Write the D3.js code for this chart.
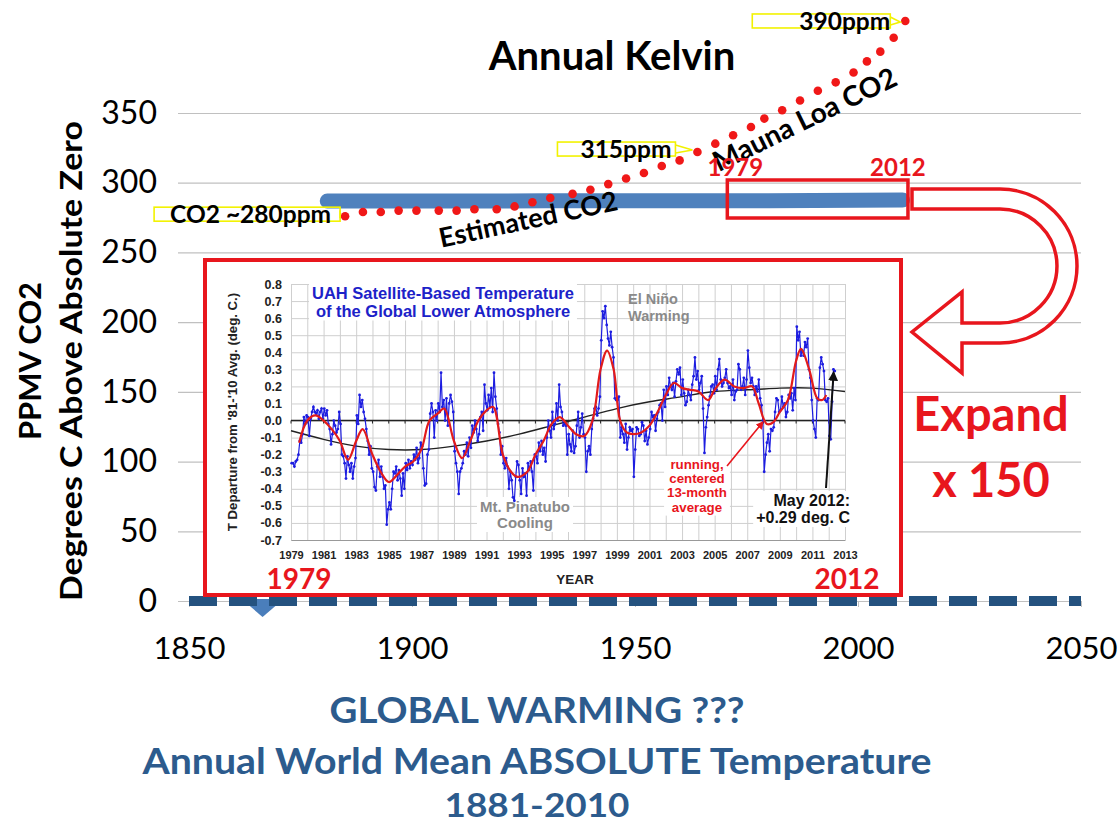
<!DOCTYPE html>
<html>
<head>
<meta charset="utf-8">
<script src="https://cdn.jsdelivr.net/npm/d3@7"></script>
<style>
body { margin: 0; background: #fff; }
svg { display: block; }
</style>
</head>
<body>
<svg id="chart" width="1118" height="827"></svg>
<script>
// ---- main chart data ----------------------------------------------
var yTicks = [0, 50, 100, 150, 200, 250, 300, 350];
var xTicks = [1850, 1900, 1950, 2000, 2050];

// annual world mean absolute temperature (Kelvin), 1881-2010
var kelvinYears = [1881, 1890, 1900, 1910, 1920, 1930, 1940, 1950, 1960, 1970, 1980, 1990, 2000, 2010];
var kelvinValues = [286.9, 286.9, 286.9, 286.8, 286.9, 287.0, 287.1, 287.0, 287.0, 287.0, 287.1, 287.3, 287.5, 287.6];

// temperature line at zero (dashed) and its marker
var zeroYears = [1850, 2050];
var zeroValues = [0, 0];
var markerYear = 1866.5;

// CO2 dots (estimated + Mauna Loa), as drawn on the chart's scale
var co2Years = [1885, 1889, 1893, 1897, 1901, 1906, 1910, 1914, 1919, 1923, 1927, 1931, 1936, 1940, 1944, 1948, 1952, 1956, 1960, 1964,
    1968, 1972, 1976, 1979, 1983, 1987, 1991, 1995, 1999, 2002, 2005, 2008, 2010.6];
var co2Values = [276, 279, 279, 280, 280, 280, 280, 281, 281, 283, 286, 289, 292, 295, 299, 303, 307, 312, 316, 322,
    328, 334, 340, 346, 352, 359, 366, 372, 379, 387, 394, 404, 416];

// callouts: label and which CO2 dot they point at
var calloutLabels = ["CO2 ~280ppm", "315ppm", "390ppm"];
var calloutDot = [0, 19, 32];

// ---- inset (UAH) data -------------------------------------------
var uahStart = 1979;
var uahMonthly = [
    -0.25, -0.25, -0.27, -0.24, -0.23, -0.20, -0.12, -0.13, -0.08, 0.02, -0.02, 0.03,   // 1979
    0.02, -0.09, 0.01, 0.05, 0.08, 0.05, 0.04, 0.06, 0.01, 0.05, 0.07, 0.01,            // 1980
    0.07, 0.03, 0.06, -0.02, -0.05, -0.14, -0.08, 0.00, -0.03, -0.07, -0.05, 0.05,      // 1981
    -0.02, -0.20, -0.21, -0.25, -0.34, -0.21, -0.26, -0.30, -0.25, -0.34, -0.27, -0.22, // 1982
    0.03, -0.02, 0.15, 0.08, 0.12, 0.05, 0.01, -0.05, -0.12, -0.20, -0.15, -0.28,       // 1983
    -0.30, -0.39, -0.41, -0.27, -0.23, -0.33, -0.27, -0.33, -0.40, -0.38, -0.61, -0.52, // 1984
    -0.48, -0.52, -0.40, -0.30, -0.31, -0.27, -0.35, -0.29, -0.34, -0.44, -0.31, -0.40, // 1985
    -0.25, -0.29, -0.23, -0.28, -0.24, -0.26, -0.20, -0.23, -0.16, -0.25, -0.22, -0.13, // 1986
    -0.15, -0.28, -0.38, -0.37, -0.20, -0.17, 0.04, 0.10, 0.05, -0.10, 0.06, 0.00,      // 1987
    0.10, 0.05, 0.28, 0.08, 0.12, 0.00, 0.13, -0.03, 0.10, 0.15, 0.11, 0.05,            // 1988
    -0.18, -0.25, -0.30, -0.43, -0.30, -0.28, -0.25, -0.18, -0.20, -0.13, -0.21, -0.10, // 1989
    -0.16, -0.03, -0.07, 0.00, -0.05, -0.12, -0.08, 0.02, 0.05, -0.06, 0.21, 0.10,      // 1990
    0.06, 0.15, 0.08, 0.19, 0.05, 0.28, 0.14, 0.07, -0.02, -0.07, -0.20, -0.15,         // 1991
    -0.25, -0.28, -0.22, -0.27, -0.40, -0.30, -0.35, -0.45, -0.47, -0.33, -0.24, -0.26, // 1992
    -0.35, -0.43, -0.28, -0.33, -0.31, -0.44, -0.25, -0.29, -0.24, -0.30, -0.41, -0.20, // 1993
    -0.21, -0.25, -0.13, -0.18, -0.12, -0.20, -0.16, -0.24, -0.10, 0.00, -0.06, -0.10,  // 1994
    0.05, -0.05, -0.02, 0.10, 0.00, 0.21, 0.08, 0.05, -0.03, -0.02, -0.03, -0.20,       // 1995
    -0.08, -0.14, -0.18, -0.06, -0.19, -0.15, -0.03, 0.05, -0.10, -0.04, 0.04, -0.08,   // 1996
    -0.10, -0.30, -0.18, -0.15, -0.20, -0.05, 0.01, 0.07, 0.08, 0.03, 0.07, 0.14,       // 1997
    0.47, 0.64, 0.60, 0.67, 0.56, 0.48, 0.44, 0.52, 0.43, 0.37, 0.13, 0.12,             // 1998
    0.12, 0.14, -0.10, -0.04, -0.08, -0.13, -0.02, -0.17, -0.10, -0.04, -0.06, -0.05,   // 1999
    -0.33, -0.17, -0.04, -0.05, -0.09, -0.08, -0.01, -0.03, -0.12, -0.06, -0.14, -0.10, // 2000
    -0.05, 0.05, 0.02, 0.03, -0.06, 0.01, 0.05, 0.09, 0.10, 0.00, 0.18, 0.08,           // 2001
    0.20, 0.15, 0.25, 0.20, 0.18, 0.22, 0.14, 0.23, 0.30, 0.27, 0.31, 0.15,             // 2002
    0.24, 0.16, 0.09, 0.11, 0.18, 0.15, 0.12, 0.21, 0.26, 0.37, 0.24, 0.29,             // 2003
    0.18, 0.22, 0.26, 0.07, -0.19, -0.04, 0.02, 0.09, 0.14, 0.20, 0.21, 0.16,           // 2004
    0.26, 0.18, 0.30, 0.36, 0.24, 0.20, 0.22, 0.25, 0.30, 0.22, 0.19, 0.20,             // 2005
    0.15, 0.24, 0.12, 0.17, 0.18, 0.33, 0.30, 0.18, 0.20, 0.25, 0.15, 0.24,             // 2006
    0.41, 0.31, 0.22, 0.25, 0.20, 0.15, 0.20, 0.17, 0.24, 0.13, 0.09, 0.00,             // 2007
    -0.30, -0.20, -0.13, -0.08, -0.18, -0.05, -0.06, -0.04, 0.05, 0.13, 0.12, 0.05,     // 2008
    0.06, 0.14, 0.08, 0.10, 0.02, 0.05, 0.15, 0.13, 0.16, 0.06, 0.19, 0.12,             // 2009
    0.55, 0.47, 0.52, 0.38, 0.41, 0.38, 0.46, 0.43, 0.48, 0.30, 0.25, 0.12,             // 2010
    0.00, -0.05, -0.10, 0.13, 0.12, 0.31, 0.37, 0.33, 0.29, 0.12, 0.11, 0.13,           // 2011
    -0.09, -0.11, 0.11, 0.30, 0.29                                                        // 2012
];

// red running 13-month average
var runTimes = [1979.5, 1980.0, 1980.5, 1981.0, 1981.5, 1982.0, 1982.5, 1983.0, 1983.4, 1984.0, 1984.5, 1985.0, 1985.5,
    1986.0, 1986.5, 1987.0, 1987.5, 1988.0, 1988.4, 1989.0, 1989.5, 1990.0, 1990.5, 1991.0, 1991.4, 1992.0, 1992.5,
    1992.9, 1993.5, 1994.0, 1994.5, 1995.0, 1995.5, 1996.0, 1996.5, 1997.0, 1997.5, 1998.0, 1998.4, 1998.8, 1999.2,
    1999.6, 2000.0, 2000.5, 2001.0, 2001.5, 2002.0, 2002.5, 2003.0, 2003.5, 2004.0, 2004.6, 2005.0, 2005.6, 2006.2,
    2006.8, 2007.3, 2007.7, 2008.2, 2008.6, 2009.0, 2009.5, 2010.0, 2010.3, 2010.8, 2011.3, 2011.6, 2011.85];
var runValues = [-0.13, 0.00, 0.03, 0.00, -0.05, -0.12, -0.23, -0.12, -0.05, -0.20, -0.30, -0.36, -0.32,
    -0.27, -0.24, -0.17, 0.00, 0.04, 0.07, -0.12, -0.22, -0.12, 0.00, 0.06, 0.08, -0.20, -0.30,
    -0.33, -0.30, -0.20, -0.12, -0.02, 0.02, -0.03, -0.08, -0.09, 0.00, 0.30, 0.41, 0.30, 0.00,
    -0.07, -0.08, -0.07, -0.03, 0.05, 0.15, 0.22, 0.19, 0.18, 0.17, 0.12, 0.18, 0.24, 0.20,
    0.19, 0.20, 0.10, -0.02, -0.01, 0.05, 0.12, 0.35, 0.42, 0.30, 0.13, 0.12, 0.15];

// black smooth fit
var fitYears = [1979, 1981, 1983, 1985, 1987, 1989, 1991, 1993, 1995, 1997, 1999, 2001, 2003, 2005, 2007, 2009, 2011, 2013];
var fitValues = [-0.06, -0.11, -0.15, -0.17, -0.17, -0.15, -0.12, -0.08, -0.03, 0.02, 0.07, 0.11, 0.14, 0.17, 0.18, 0.19, 0.19, 0.17];

var insetYTicks = [-0.7, -0.6, -0.5, -0.4, -0.3, -0.2, -0.1, 0.0, 0.1, 0.2, 0.3, 0.4, 0.5, 0.6, 0.7, 0.8];
var insetXTicks = d3.range(1979, 2014);

// ---- main chart -------------------------------------------------
var svg = d3.select("#chart");
var red = "#e8161d";
var mainFont = "Lato, 'Open Sans', sans-serif";
var insetFont = "'Liberation Sans', Arial, sans-serif";

var x = d3.scaleLinear().domain([1850, 2050]).range([189, 1081]);
var y = d3.scaleLinear().domain([0, 350]).range([601, 113]);

var defs = svg.append("defs");
[["arrowRed", red], ["arrowBlack", "#111"]].forEach(function(m) {
    defs.append("marker")
        .attr("id", m[0])
        .attr("viewBox", "0 0 10 10")
        .attr("refX", 8).attr("refY", 5)
        .attr("markerWidth", 5).attr("markerHeight", 5)
        .attr("orient", "auto")
        .append("path")
            .attr("d", "M0,0 L10,5 L0,10 z")
            .attr("fill", m[1]);
});

// Y axis with gridlines
svg.append("g")
    .attr("class", "y axis")
    .attr("transform", "translate(178,0)")
    .call(d3.axisLeft(y).tickValues(yTicks).tickSize(-(1081 - 178)).tickPadding(21))
    .call(function(g) { g.select(".domain").remove(); })
    .call(function(g) { g.selectAll(".tick line").attr("stroke", "#c0c0c0").attr("stroke-width", 1.2); })
    .call(function(g) { g.selectAll(".tick text").attr("font-family", mainFont).attr("font-size", 32).attr("fill", "#000"); });

// X axis
svg.append("g")
    .attr("class", "x axis")
    .attr("transform", "translate(0," + y(0) + ")")
    .call(d3.axisBottom(x).tickValues(xTicks).tickFormat(d3.format("d")).tickSize(6).tickSizeOuter(0).tickPadding(30))
    .call(function(g) { g.select(".domain").attr("stroke", "#c0c0c0"); })
    .call(function(g) { g.selectAll(".tick line").attr("stroke", "#c0c0c0"); })
    .call(function(g) { g.selectAll(".tick text").attr("font-family", mainFont).attr("font-size", 31).attr("fill", "#000"); });

// triangle marker hanging under the axis
var mx = x(markerYear), my = y(0);
svg.append("path")
    .attr("d", "M" + (mx - 21) + "," + (my - 2) + " L" + (mx + 21) + "," + (my - 2) + " L" + mx + "," + (my + 16) + " Z")
    .attr("fill", "#4a7ebb");

// dashed zero line
var line = d3.line().x(function(d) { return x(d[0]); }).y(function(d) { return y(d[1]); });
svg.append("path")
    .datum(zeroYears.map(function(v, i) { return [v, zeroValues[i]]; }))
    .attr("d", line)
    .attr("fill", "none")
    .attr("stroke", "#24527f")
    .attr("stroke-width", 10)
    .attr("stroke-dasharray", "28,12");

// thick blue kelvin line
svg.append("path")
    .datum(kelvinYears.map(function(v, i) { return [v, kelvinValues[i]]; }))
    .attr("d", line)
    .attr("fill", "none")
    .attr("stroke", "#4f81bd")
    .attr("stroke-width", 15)
    .attr("stroke-linecap", "round")
    .attr("stroke-linejoin", "round");

// CO2 dotted series
svg.selectAll("circle.co2")
    .data(co2Years)
    .enter()
    .append("circle")
        .attr("class", "co2")
        .attr("cx", function(d) { return x(d); })
        .attr("cy", function(d, i) { return y(co2Values[i]); })
        .attr("r", 4.3)
        .attr("fill", "#f01818");

// callouts (yellow outlined boxes with text)
var calloutGeom = [
    {boxGap: 5, boxW: 186, textGap: 14, dy: -2},
    {boxGap: 22, boxW: 118, textGap: 26, dy: -3},
    {boxGap: 15, boxW: 138, textGap: 15, dy: 0}
];
calloutLabels.forEach(function(lbl, i) {
    var k = calloutDot[i], g = calloutGeom[i];
    var px = x(co2Years[k]), py = y(co2Values[k]) + g.dy;
    var right = px - g.boxGap;
    var cg = svg.append("g");
    cg.append("rect")
        .attr("x", right - g.boxW).attr("y", py - 7)
        .attr("width", g.boxW).attr("height", 14)
        .attr("fill", "none").attr("stroke", "#f2f200").attr("stroke-width", 1.6);
    cg.append("path")
        .attr("d", "M" + right + "," + (py - 4) + " L" + (px - 5) + "," + (py + 1) + " L" + right + "," + (py + 4))
        .attr("fill", "none").attr("stroke", "#f2f200").attr("stroke-width", 1.6);
    cg.append("text")
        .attr("x", px - g.textGap).attr("y", py)
        .attr("dy", "0.35em")
        .attr("text-anchor", "end")
        .attr("font-family", mainFont).attr("font-weight", 700).attr("font-size", 24.5)
        .text(lbl);
});

// rotated series labels
svg.append("text")
    .attr("transform", "translate(" + x(1926.5) + "," + (y(267)) + ") rotate(-12)")
    .attr("text-anchor", "middle")
    .attr("font-family", mainFont).attr("font-weight", 700).attr("font-size", 27)
    .text("Estimated CO2");
svg.append("text")
    .attr("transform", "translate(" + x(1989) + "," + (y(339)) + ") rotate(-26)")
    .attr("text-anchor", "middle")
    .attr("font-family", mainFont).attr("font-weight", 700).attr("font-size", 28)
    .text("Mauna Loa CO2");

// chart title
svg.append("text")
    .attr("x", 612).attr("y", 70)
    .attr("text-anchor", "middle")
    .attr("font-family", mainFont).attr("font-weight", 700).attr("font-size", 40)
    .text("Annual Kelvin");

// axis titles
[["PPMV CO2", 29, 158], ["Degrees C Above Absolute Zero", 70, 480]].forEach(function(t) {
    svg.append("text")
        .attr("transform", "translate(" + t[1] + ",361) rotate(-90)")
        .attr("text-anchor", "middle")
        .attr("dominant-baseline", "central")
        .attr("font-family", mainFont).attr("font-weight", 700).attr("font-size", 31)
        .attr("textLength", t[2]).attr("lengthAdjust", "spacingAndGlyphs")
        .text(t[0]);
});

// red box over 1979-2012 on the kelvin line
var expandFrom = 1970.7, expandTo = 2011.2;
svg.append("rect")
    .attr("x", x(expandFrom)).attr("y", 180)
    .attr("width", x(expandTo) - x(expandFrom)).attr("height", 38)
    .attr("fill", "none").attr("stroke", red).attr("stroke-width", 3.5);
[["1979", x(expandFrom) + 8], ["2012", x(expandTo) - 10]].forEach(function(t) {
    svg.append("text")
        .attr("x", t[1]).attr("y", 176)
        .attr("text-anchor", "middle")
        .attr("font-family", mainFont).attr("font-weight", 700).attr("font-size", 24)
        .attr("fill", red)
        .text(t[0]);
});

// U-turn arrow
svg.append("path")
    .attr("d", "M912,189 L1000,189 A77,77 0 0 1 1000,343 L962,343 L962,373 L912,332 L962,292 L962,323 " +
               "L1000,323 A57,57 0 0 0 1000,209 L912,209 Z")
    .attr("fill", "none").attr("stroke", red).attr("stroke-width", 3.5).attr("stroke-linejoin", "miter");

[["Expand", 431], ["x 150", 497]].forEach(function(t) {
    svg.append("text")
        .attr("x", 991).attr("y", t[1])
        .attr("text-anchor", "middle")
        .attr("font-family", mainFont).attr("font-weight", 700).attr("font-size", 47)
        .attr("fill", red)
        .text(t[0]);
});

// bottom titles
[["GLOBAL WARMING ???", 723, 415, 36], ["Annual World Mean ABSOLUTE Temperature", 774, 789, 36], ["1881-2010", 817, 185, 33]].forEach(function(t) {
    svg.append("text")
        .attr("x", 537).attr("y", t[1])
        .attr("text-anchor", "middle")
        .attr("font-family", mainFont).attr("font-weight", 700).attr("font-size", t[3])
        .attr("textLength", t[2]).attr("lengthAdjust", "spacingAndGlyphs")
        .attr("fill", "#2c5b8d")
        .text(t[0]);
});

// ---- inset chart -------------------------------------------------
var inset = svg.append("g").attr("class", "inset");
inset.append("rect")
    .attr("x", 205).attr("y", 260).attr("width", 696).attr("height", 335)
    .attr("fill", "#fff").attr("stroke", red).attr("stroke-width", 4);

var ix = d3.scaleLinear().domain([1979, 2013]).range([291, 845]);
var iy = d3.scaleLinear().domain([-0.7, 0.8]).range([540, 284]);

inset.append("g")
    .attr("transform", "translate(" + ix(1979) + ",0)")
    .call(d3.axisLeft(iy).tickValues(insetYTicks).tickFormat(function(d) { return d.toFixed(1); })
        .tickSize(-(ix(2013) - ix(1979))).tickSizeOuter(0).tickPadding(9))
    .call(function(g) { g.select(".domain").attr("stroke", "#999"); })
    .call(function(g) { g.selectAll(".tick line").attr("stroke", "#cfcfcf"); })
    .call(function(g) { g.selectAll(".tick text").attr("font-family", insetFont).attr("font-weight", 700).attr("font-size", 12.5).attr("fill", "#222"); });

inset.append("g")
    .attr("transform", "translate(0," + iy(-0.7) + ")")
    .call(d3.axisBottom(ix).tickValues(insetXTicks)
        .tickFormat(function(d) { return (d - 1979) % 2 === 0 ? String(d) : ""; })
        .tickSize(-(iy(-0.7) - iy(0.8))).tickSizeOuter(0).tickPadding(11))
    .call(function(g) { g.select(".domain").attr("stroke", "#999"); })
    .call(function(g) { g.selectAll(".tick line").attr("stroke", "#cfcfcf"); })
    .call(function(g) { g.selectAll(".tick text").attr("font-family", insetFont).attr("font-weight", 700).attr("font-size", 11).attr("fill", "#222"); });

// zero line with small year ticks
inset.append("line")
    .attr("x1", ix(1979)).attr("x2", ix(2013)).attr("y1", iy(0)).attr("y2", iy(0))
    .attr("stroke", "#222").attr("stroke-width", 1.4);
inset.selectAll("line.zt")
    .data(insetXTicks)
    .enter()
    .append("line")
        .attr("class", "zt")
        .attr("x1", function(d) { return ix(d); }).attr("x2", function(d) { return ix(d); })
        .attr("y1", iy(0)).attr("y2", iy(0) + 3)
        .attr("stroke", "#222");

// text blocks, some on a white background
function boxedText(lines, tx, ty, lh, opts) {
    var g = inset.append("g");
    var t = g.append("text")
        .attr("text-anchor", opts.anchor || "middle")
        .attr("font-family", insetFont).attr("font-weight", 700)
        .attr("font-size", opts.size)
        .attr("fill", opts.color);
    lines.forEach(function(s, i) {
        t.append("tspan").attr("x", tx).attr("y", ty + i * lh).text(s);
    });
    if (opts.bg) {
        var b = t.node().getBBox();
        g.insert("rect", "text")
            .attr("x", b.x - 3).attr("y", b.y - 1)
            .attr("width", b.width + 6).attr("height", b.height + 2)
            .attr("fill", "#fff");
    }
}

boxedText(["UAH Satellite-Based Temperature", "of the Global Lower Atmosphere"], 443, 299, 17.5,
    {size: 16.5, color: "#1c22c8", bg: true});
boxedText(["El Niño", "Warming"], 628, 304, 17, {size: 14.5, color: "#8a8a8a", anchor: "start"});
boxedText(["Mt. Pinatubo", "Cooling"], 525, 512, 16, {size: 15, color: "#8a8a8a", bg: true});
boxedText(["running,", "centered", "13-month", "average"], 697, 469, 14.2, {size: 13.3, color: red, bg: true});
boxedText(["May 2012:", "+0.29 deg. C"], 850, 506, 17, {size: 16, color: "#111", anchor: "end", bg: true});

// black fit curve
inset.append("path")
    .datum(fitYears.map(function(v, i) { return [v, fitValues[i]]; }))
    .attr("d", d3.line().x(function(d) { return ix(d[0]); }).y(function(d) { return iy(d[1]); }).curve(d3.curveNatural))
    .attr("fill", "none").attr("stroke", "#222").attr("stroke-width", 1.4);

// blue monthly series
var monthly = uahMonthly.map(function(v, i) { return [uahStart + (i + 0.5) / 12, v]; });
var iline = d3.line().x(function(d) { return ix(d[0]); }).y(function(d) { return iy(d[1]); });
inset.append("path")
    .datum(monthly)
    .attr("d", iline)
    .attr("fill", "none").attr("stroke", "#1d1de0").attr("stroke-width", 1.2);
inset.selectAll("circle.m")
    .data(monthly)
    .enter()
    .append("circle")
        .attr("class", "m")
        .attr("cx", function(d) { return ix(d[0]); })
        .attr("cy", function(d) { return iy(d[1]); })
        .attr("r", 1.4)
        .attr("fill", "#1d1de0");

// red running mean
inset.append("path")
    .datum(runTimes.map(function(v, i) { return [v, runValues[i]]; }))
    .attr("d", iline.curve(d3.curveCatmullRom))
    .attr("fill", "none").attr("stroke", "#e21b1b").attr("stroke-width", 2.2);

// annotation arrows
inset.append("line")
    .attr("x1", 727).attr("y1", 466).attr("x2", ix(2007.95)).attr("y2", iy(-0.01))
    .attr("stroke", red).attr("stroke-width", 1.6).attr("marker-end", "url(#arrowRed)");
inset.append("line")
    .attr("x1", 826).attr("y1", 488).attr("x2", ix(2012.3)).attr("y2", iy(0.28))
    .attr("stroke", "#111").attr("stroke-width", 2).attr("marker-end", "url(#arrowBlack)");

// inset axis titles
inset.append("text")
    .attr("transform", "translate(232," + iy(0.05) + ") rotate(-90)")
    .attr("text-anchor", "middle")
    .attr("dominant-baseline", "central")
    .attr("font-family", insetFont).attr("font-weight", 700).attr("font-size", 13.2)
    .attr("fill", "#222")
    .text("T Departure from '81-'10 Avg. (deg. C.)");
inset.append("text")
    .attr("x", 575).attr("y", 584)
    .attr("text-anchor", "middle")
    .attr("font-family", insetFont).attr("font-weight", 700).attr("font-size", 13.5)
    .attr("fill", "#222")
    .text("YEAR");
[["1979", 299], ["2012", 847]].forEach(function(t) {
    inset.append("text")
        .attr("x", t[1]).attr("y", 589)
        .attr("text-anchor", "middle")
        .attr("font-family", mainFont).attr("font-weight", 700).attr("font-size", 28)
        .attr("fill", red)
        .text(t[0]);
});
</script>
</body>
</html>
